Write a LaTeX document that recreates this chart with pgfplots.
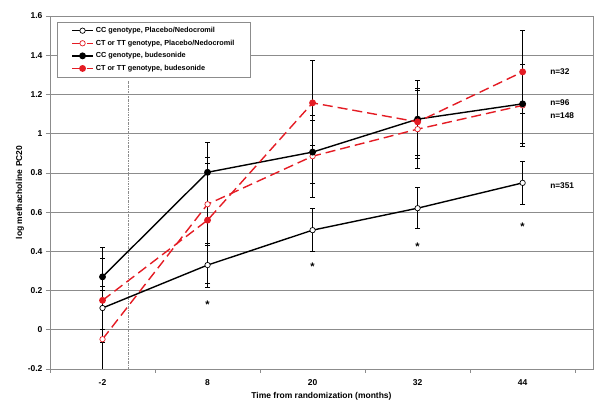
\documentclass[border=0pt]{standalone}
\usepackage{fontspec}
\setmainfont{Liberation Sans}
\usepackage{pgfplots}
\pgfplotsset{compat=1.18}
\usetikzlibrary{calc}
\definecolor{exred}{RGB}{228,28,36}
\definecolor{gridgray}{RGB}{140,140,140}
\pgfplotstableread{
x y e
0 0.111 0.110
1 0.330 0.112
2 0.508 0.110
3 0.620 0.105
4 0.749 0.110
}\ccplac
\pgfplotstableread{
x y e
0 -0.048 0.250
1 0.640 0.210
2 0.885 0.210
3 1.023 0.200
4 1.144 0.210
}\ctplac
\pgfplotstableread{
x y e
0 0.270 0.152
1 0.803 0.155
2 0.906 0.160
3 1.074 0.200
4 1.152 0.200
}\ccbud
\pgfplotstableread{
x y e
0 0.150 0.216
1 0.559 0.320
2 1.157 0.218
3 1.060 0.170
4 1.315 0.213
}\ctbud
\begin{document}
\begin{tikzpicture}
\begin{axis}[
  scale only axis, width=543pt, height=353pt,
  xmin=-0.5, xmax=4.67, ymin=-0.2, ymax=1.6,
  axis line style={gridgray, line width=0.8pt},
  ytick={-0.2,0,0.2,0.4,0.6,0.8,1,1.2,1.4,1.6},
  yticklabels={-0.2,0,0.2,0.4,0.6,0.8,1,1.2,1.4,1.6},
  ymajorgrids, grid style={gridgray, line width=0.6pt},
  xtick={0,1,2,3,4}, xticklabels={-2,8,20,32,44},
  minor xtick={-0.5,0.5,1.5,2.5,3.5,4.5},
  major x tick style={draw=none},
  minor x tick style={gridgray, line width=0.6pt},
  y tick style={gridgray, line width=0.6pt},
  tick align=outside, major tick length=4pt, minor tick length=4pt,
  xtick pos=bottom, ytick pos=left,
  ticklabel style={font=\bfseries\fontsize{8.5}{10}\selectfont},
  xticklabel style={yshift=-3pt},
  xlabel={\bfseries Time from randomization (months)},
  ylabel={\bfseries log methacholine PC20},
  xlabel style={font=\fontsize{8.5}{10}\selectfont, yshift=0pt},
  ylabel style={font=\fontsize{8.5}{10}\selectfont, yshift=-3pt},
  legend style={at={(rel axis cs:0.013,0.983)}, anchor=north west, draw=gridgray,
    line width=0.6pt, font=\bfseries\fontsize{7.3}{8.5}\selectfont,
    inner xsep=14pt, inner ysep=3pt, row sep=1.8pt},
  legend cell align=left,
  legend image code/.code={\draw[#1] (0pt,0pt) -- (21pt,0pt); \draw[#1,mark repeat=2,mark phase=2] plot coordinates {(0pt,0pt)(10.5pt,0pt)(21pt,0pt)};},
  error bars/y dir=both, error bars/y explicit,
  error bars/error bar style={black, line width=0.6pt, solid},
  error bars/error mark options={rotate=90, mark size=2.5pt, black, line width=0.6pt},
]
\addplot[gridgray, line width=0.6pt, dash pattern=on 2pt off 1pt on 0.6pt off 1pt, forget plot, error bars/y dir=none] coordinates {(0.245,-0.2) (0.245,1.27)};
\addplot[black, line width=1.4pt, mark=*, mark size=2.7pt, mark options={solid, fill=white, draw=black, line width=0.7pt}] table[x=x, y=y, y error=e]{\ccplac};
\addlegendentry{CC genotype, Placebo/Nedocromil}
\addplot[exred, line width=1.4pt, dash pattern=on 10pt off 5pt, mark=*, mark size=2.7pt, mark options={solid, fill=white, draw=exred, line width=0.7pt}] table[x=x, y=y, y error=e]{\ctplac};
\addlegendentry{CT or TT genotype, Placebo/Nedocromil}
\addplot[black, line width=1.4pt, mark=*, mark size=2.7pt, mark options={solid, fill=black, draw=black}] table[x=x, y=y, y error=e]{\ccbud};
\addlegendentry{CC genotype, budesonide}
\addplot[exred, line width=1.4pt, dash pattern=on 10pt off 5pt, mark=*, mark size=2.7pt, mark options={solid, fill=exred, draw=exred}] table[x=x, y=y, y error=e]{\ctbud};
\addlegendentry{CT or TT genotype, budesonide}
\addplot[draw=none, forget plot, error bars/y dir=none, nodes near coords={\bfseries *}, nodes near coords align={center}, every node near coord/.append style={text=black, font=\fontsize{11}{12}\selectfont}] coordinates {(1,0.13) (2,0.32) (3,0.425) (4,0.525)};
\node[anchor=west, font=\bfseries\fontsize{8.3}{9}\selectfont] at (axis cs:4.23,1.318) {n=32};
\node[anchor=west, font=\bfseries\fontsize{8.3}{9}\selectfont] at (axis cs:4.23,1.157) {n=96};
\node[anchor=west, font=\bfseries\fontsize{8.3}{9}\selectfont] at (axis cs:4.23,1.094) {n=148};
\node[anchor=west, font=\bfseries\fontsize{8.3}{9}\selectfont] at (axis cs:4.23,0.737) {n=351};
\end{axis}
\pgfresetboundingbox
\path ($(current axis.south west)+(-50pt,-35pt)$) rectangle ($(current axis.north east)+(7pt,16pt)$);
\end{tikzpicture}
\end{document}
